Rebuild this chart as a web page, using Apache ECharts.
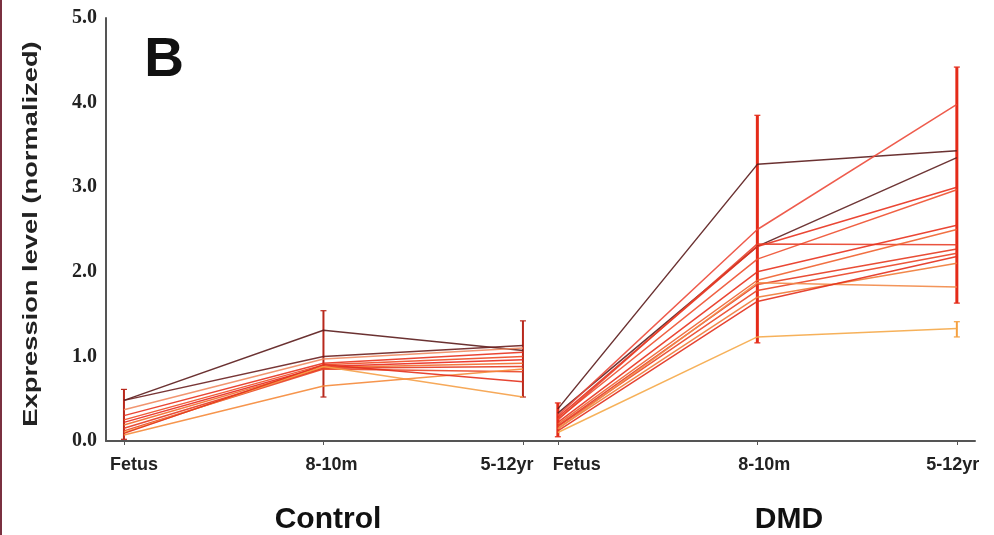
<!DOCTYPE html>
<html>
<head>
<meta charset="utf-8">
<script src="https://cdn.jsdelivr.net/npm/echarts@6/dist/echarts.min.js"></script>
<style>
  html, body { margin: 0; padding: 0; background: #fff; }
  #chart { width: 994px; height: 535px; }
</style>
</head>
<body>
<div id="chart"></div>
<script>
// time points, same for both groups
const categories = ['Fetus', '8-10m', '5-12yr'];
const groups = ['Control', 'DMD'];

// control lines: [Fetus, 8-10m, 5-12yr]
const controlLines = [
    [0.48, 1.31, 1.07],
    [0.48, 1.00, 1.13],
    [0.37, 0.97, 1.10],
    [0.30, 0.92, 1.05],
    [0.25, 0.90, 1.00],
    [0.22, 0.88, 0.96],
    [0.19, 0.87, 0.92],
    [0.15, 0.86, 0.88],
    [0.12, 0.85, 0.82],
    [0.10, 0.88, 0.52],
    [0.07, 0.65, 0.85],
    [0.09, 0.90, 0.70]
];
const controlColors = ['#5b1c1c', '#6a2020', '#f08a60', '#e8321e', '#ee4a22', '#e8281e',
    '#f26a2a', '#e53a20', '#ea4426', '#f5a048', '#f58a3a', '#e3301c'];

// DMD lines: [Fetus, 8-10m, 5-12yr]
const dmdLines = [
    [0.38, 3.27, 3.43],
    [0.33, 2.30, 3.35],
    [0.30, 2.50, 3.98],
    [0.28, 2.30, 3.00],
    [0.26, 2.15, 2.97],
    [0.25, 2.33, 2.32],
    [0.22, 2.00, 2.55],
    [0.20, 1.90, 2.50],
    [0.18, 1.85, 2.27],
    [0.17, 1.78, 2.22],
    [0.15, 1.70, 2.10],
    [0.14, 1.87, 1.82],
    [0.12, 1.65, 2.18],
    [0.10, 1.23, 1.33]
];
const dmdColors = ['#5b1c1c', '#5e2020', '#ec4a3a', '#e8321e', '#ee5030', '#e8402a',
    '#e8321e', '#f0602e', '#e53a20', '#ea4426', '#f07a36', '#f28a48', '#e3301c', '#f5a848'];

// vertical error bar ranges per time point [low, high]
const controlErr = [[0.02, 0.61], [0.52, 1.54], [0.52, 1.42]];
const dmdErr = [[0.05, 0.45], [1.16, 3.85], [1.63, 4.42]];
const dmdExtraErr = [[1.23, 1.41]]; // separate bar at DMD 5-12yr

// layout: x units between the two panels, px per unit, label nudges in px
const groupShift = 2.175;
const pxPerUnit = 199.5;
const labelNudge = [10, 8, -16, 19, 7, -4];

function xOf(g, i) { return i + g * groupShift; }

const series = [];
[controlLines, dmdLines].forEach(function (lines, g) {
    const cols = g === 0 ? controlColors : dmdColors;
    lines.forEach(function (vals, k) {
        series.push({
            type: 'line',
            data: vals.map(function (v, i) { return [xOf(g, i), v]; }),
            symbol: 'none',
            silent: true,
            lineStyle: { color: cols[k], width: 1.5, opacity: 0.9 },
            z: 3
        });
    });
});

const errData = [];
controlErr.forEach(function (r, i) { errData.push([xOf(0, i), r[0], r[1], 0]); });
dmdErr.forEach(function (r, i) { errData.push([xOf(1, i), r[0], r[1], 1]); });
dmdExtraErr.forEach(function (r) { errData.push([xOf(1, 2), r[0], r[1], 2]); });

series.push({
    type: 'custom',
    silent: true,
    z: 2,
    data: errData,
    renderItem: function (params, api) {
        const lo = api.coord([api.value(0), api.value(1)]);
        const hi = api.coord([api.value(0), api.value(2)]);
        const kind = api.value(3);
        const c = kind === 2 ? '#f5a040' : (kind === 0 ? '#b8281c' : '#e42a18');
        const w = kind === 1 ? 3 : 2;
        return {
            type: 'group',
            children: [
                { type: 'line', shape: { x1: lo[0], y1: lo[1], x2: hi[0], y2: hi[1] }, style: { stroke: c, lineWidth: w } },
                { type: 'line', shape: { x1: hi[0] - 3, y1: hi[1], x2: hi[0] + 3, y2: hi[1] }, style: { stroke: c, lineWidth: 1.2 } },
                { type: 'line', shape: { x1: lo[0] - 3, y1: lo[1], x2: lo[0] + 3, y2: lo[1] }, style: { stroke: c, lineWidth: 1.2 } }
            ]
        };
    }
});

const xTickVals = [];
const xLabelVals = [];
const xLabelNames = {};
groups.forEach(function (gName, g) {
    categories.forEach(function (c, i) {
        const x = xOf(g, i);
        const lx = x + labelNudge[g * 3 + i] / pxPerUnit;
        xTickVals.push(x);
        xLabelVals.push(lx);
        xLabelNames[lx.toFixed(4)] = c;
    });
});

const chart = echarts.init(document.getElementById('chart'));
const option = {
    animation: false,
    backgroundColor: '#fff',
    grid: { left: 106, right: 19, top: 18, bottom: 94 },
    xAxis: {
        type: 'value',
        min: -0.09,
        max: 4.266,
        splitLine: { show: false },
        axisLine: { lineStyle: { color: '#555', width: 2 } },
        axisTick: { customValues: xTickVals, length: 4, lineStyle: { color: '#555' } },
        axisLabel: {
            customValues: xLabelVals,
            formatter: function (v) { return xLabelNames[v.toFixed(4)] || ''; },
            fontFamily: 'Liberation Sans, Arial',
            fontWeight: 'bold',
            fontSize: 18,
            color: '#222',
            margin: 15
        }
    },
    yAxis: {
        type: 'value',
        min: 0,
        max: 5,
        interval: 1,
        splitLine: { show: false },
        axisLine: { show: true, onZero: false, lineStyle: { color: '#555', width: 2 } },
        axisTick: { show: false },
        axisLabel: {
            formatter: function (v) { return v.toFixed(1); },
            fontFamily: 'Liberation Serif, Times New Roman',
            fontWeight: 'bold',
            fontSize: 20,
            color: '#222',
            margin: 9
        }
    },
    graphic: [
        { type: 'rect', shape: { x: 0, y: 0, width: 2, height: 535 }, style: { fill: '#7a3040' } },
        {
            type: 'text', x: 31, y: 234, rotation: Math.PI / 2, scaleX: 1.3,
            style: { text: 'Expression level (normalized)', font: 'bold 21px Liberation Sans, Arial', fill: '#222', textAlign: 'center', textVerticalAlign: 'middle' }
        },
        { type: 'text', x: 164, y: 61, style: { text: 'B', font: 'bold 55px Liberation Sans, Arial', fill: '#111', textAlign: 'center', textVerticalAlign: 'middle' } },
        { type: 'text', x: 328, y: 520, style: { text: groups[0], font: 'bold 30px Liberation Sans, Arial', fill: '#111', textAlign: 'center', textVerticalAlign: 'middle' } },
        { type: 'text', x: 789, y: 520, style: { text: groups[1], font: 'bold 30px Liberation Sans, Arial', fill: '#111', textAlign: 'center', textVerticalAlign: 'middle' } }
    ],
    series: series
};
chart.setOption(option);
window.addEventListener('resize', function () {
    chart.resize();
});
</script>
</body>
</html>
